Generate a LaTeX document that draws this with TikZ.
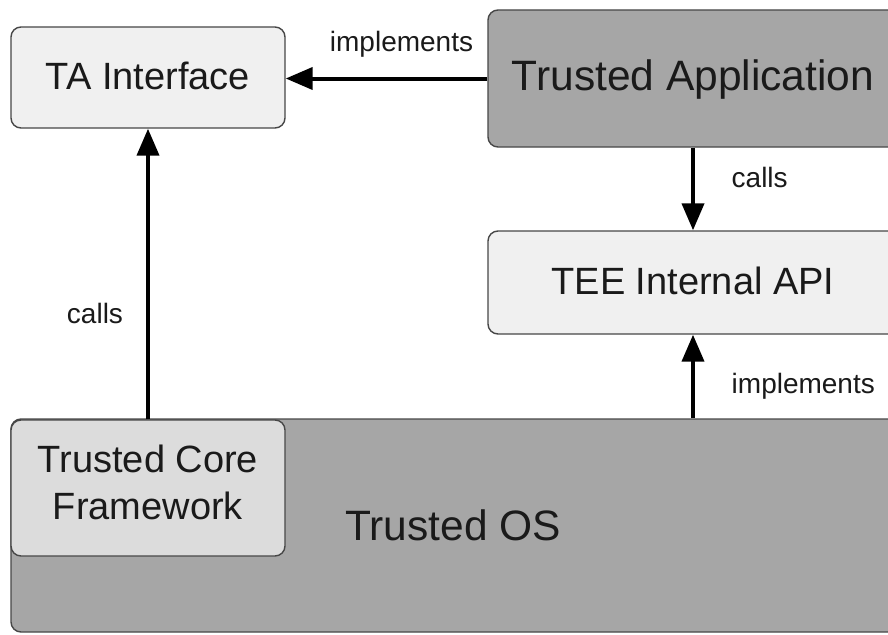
\documentclass[tikz,border=0pt]{standalone}
\usepackage{fontspec}
\setmainfont{Liberation Sans}
\usetikzlibrary{arrows.meta}
\definecolor{lightfill}{HTML}{F0F0F0}
\definecolor{midfill}{HTML}{DCDCDC}
\definecolor{darkfill}{HTML}{A6A6A6}
\definecolor{edgegray}{HTML}{474747}
\definecolor{txt}{HTML}{1A1A1A}
\tikzset{
  box/.style={draw=edgegray, line width=1.4pt, rounded corners=10pt, inner sep=0pt,
    text=txt, align=center},
  onebox/.style={box, text height=28.5pt, text depth=5.5pt},
  onebigbox/.style={box, text height=32pt, text depth=9pt},
  big/.style={font=\fontsize{38}{47}\selectfont},
  bigger/.style={font=\fontsize{42.5}{50}\selectfont},
  lbl/.style={font=\fontsize{28}{32}\selectfont, text=txt, inner sep=0pt},
  arr/.style={line width=4pt, -{Triangle[length=27pt,width=22pt]}}
}
\begin{document}
\begin{tikzpicture}[x=1pt,y=-1pt]
\useasboundingbox[fill=white] (0,0) rectangle (888,634);
% Trusted OS container
\node[box, fill=darkfill, minimum width=887pt, minimum height=213pt] (os) at (454.5,525.5) {};
\node[bigger, text=txt, inner sep=0pt, anchor=base] (ostxt) at (453,540.7) {Trusted OS};
% Trusted Core Framework
\node[box, big, fill=midfill, minimum width=274pt, minimum height=136pt] (core) at (148,488)
  {Trusted Core\\Framework\vphantom{g}\rule[-12pt]{0pt}{1pt}};
% TA Interface
\node[onebox, big, fill=lightfill, minimum width=274pt, minimum height=101pt] (tai) at (148,77.5) {TA Interface};
% Trusted Application
\node[onebigbox, bigger, fill=darkfill, minimum width=410pt, minimum height=137pt] (ta) at (693,78.5) {Trusted Application};
% TEE Internal API
\node[onebox, big, fill=lightfill, minimum width=410pt, minimum height=103pt] (api) at (693,282.5) {TEE Internal API};
% connectors
\draw[arr] (ta.west) -- (ta.west -| tai.east);
\draw[arr] (core.north) -- (tai.south);
\draw[arr] (ta.south) -- (api.north);
\draw[arr] (os.north -| api.south) -- (api.south);
% labels
\node[lbl, anchor=base] (l1) at (401.5,51.7) {implements};
\node[lbl, anchor=base] (l2) at (95,323) {calls};
\node[lbl, anchor=base west] (l3) at (731.5,187) {calls};
\node[lbl, anchor=base west] (l4) at (731.5,393) {implements};
\end{tikzpicture}
\end{document}
